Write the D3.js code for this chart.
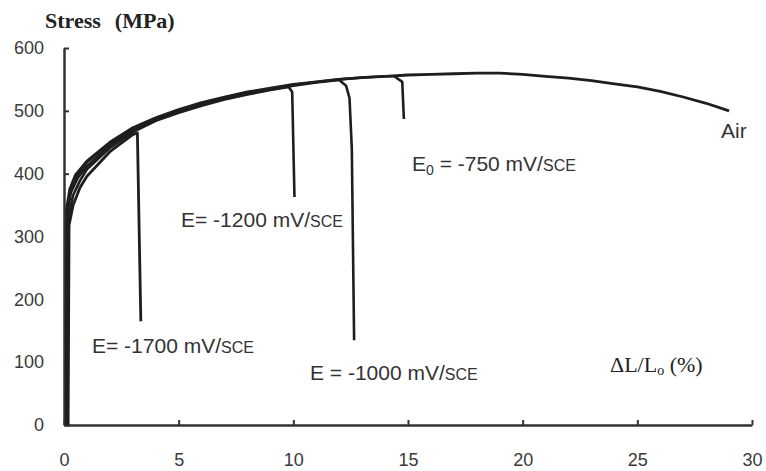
<!DOCTYPE html>
<html>
<head>
<meta charset="utf-8">
<script src="https://cdn.jsdelivr.net/npm/d3@7"></script>
<style>
  body { margin: 0; background: #fff; }
  .tick text { font-family: "Liberation Sans", Arial, sans-serif; font-size: 18px; fill: #3a3a3a; }
  .lbl { font-family: "Liberation Sans", Arial, sans-serif; font-size: 21px; fill: #333; }
</style>
</head>
<body>
<div id="chart"></div>
<script>
// strain (%) / stress (MPa)
const strainAir = [0.1, 0.12, 0.25, 0.5, 1, 2, 3, 4, 5, 6, 7, 8, 9, 10, 11, 12, 13, 14, 15, 16, 17, 18, 19, 20, 21, 22, 23, 24, 25, 26, 27, 28, 29];
const stressAir = [0, 345, 375, 398, 420, 450, 473, 489, 502, 513, 522, 530, 536, 542, 546, 550, 553, 555, 557, 558, 559, 560, 560, 558, 555, 552, 548, 543, 538, 531, 522, 512, 500];

const strain1700 = [0.18, 0.22, 0.4, 0.7, 1, 2, 3, 3.2, 3.35];
const stress1700 = [0, 318, 350, 378, 396, 435, 462, 465, 165];

const strain1200 = [0.15, 0.2, 0.4, 0.7, 1, 2, 3, 4, 5, 6, 7, 8, 9, 9.8, 9.95, 10.05];
const stress1200 = [0, 332, 366, 389, 407, 441, 466, 484, 497, 508, 518, 526, 533, 538, 530, 363];

const strain1000 = [0.12, 0.15, 0.3, 0.6, 1, 2, 3, 4, 5, 6, 7, 8, 9, 10, 11, 12, 12.3, 12.45, 12.55, 12.65];
const stress1000 = [0, 340, 370, 393, 412, 445, 469, 486, 499, 510, 519, 527, 534, 540, 545, 549, 540, 520, 440, 135];

const strain750 = [0.1, 0.12, 0.28, 0.55, 1, 2, 3, 4, 5, 6, 7, 8, 9, 10, 11, 12, 13, 14, 14.4, 14.75, 14.82];
const stress750 = [0, 342, 373, 396, 418, 448, 471, 488, 501, 512, 521, 529, 535, 541, 546, 550, 553, 555, 555, 546, 487];

const xTicks = [0, 5, 10, 15, 20, 25, 30];
const yTicks = [0, 100, 200, 300, 400, 500, 600];

const W = 766, H = 471;
const svg = d3.select("#chart").append("svg")
  .attr("width", W).attr("height", H);

const x = d3.scaleLinear().domain([0, 30]).range([64, 752]);
const y = d3.scaleLinear().domain([0, 600]).range([425, 48]);

// axes, ticks pointing inward
svg.append("g")
  .attr("transform", `translate(0,${y(0)})`)
  .call(d3.axisBottom(x).tickValues(xTicks).tickSizeInner(-5).tickSizeOuter(0).tickPadding(28));
svg.append("g")
  .attr("transform", `translate(${x(0)},0)`)
  .call(d3.axisLeft(y).tickValues(yTicks).tickSizeInner(-5).tickSizeOuter(0).tickPadding(20));

svg.selectAll(".domain").attr("stroke", "#333").attr("stroke-width", 2.5);
svg.selectAll(".tick line").attr("stroke", "#333").attr("stroke-width", 2);
svg.selectAll(".tick text").attr("font-family", null).attr("font-size", null);

const line = d3.line()
  .x(d => x(d[0]))
  .y(d => y(d[1]));

const series = [
  [strain1700, stress1700, 2.8],
  [strain1200, stress1200, 2.6],
  [strain1000, stress1000, 2.6],
  [strain750, stress750, 2.6],
  [strainAir, stressAir, 2.8]
];
series.forEach(([xs, ys, w]) => {
  svg.append("path")
    .datum(xs.map((v, i) => [v, ys[i]]))
    .attr("fill", "none")
    .attr("stroke", "#1e1e1e")
    .attr("stroke-width", w)
    .attr("stroke-linejoin", "round")
    .attr("d", line);
});

// title
const title = svg.append("text")
  .attr("x", 45).attr("y", 28)
  .attr("font-family", "'Liberation Serif', 'Times New Roman', serif")
  .attr("font-weight", "bold")
  .attr("font-size", 22)
  .attr("fill", "#222");
title.append("tspan").text("Stress");
title.append("tspan").attr("dx", 14).text("(MPa)");

// x axis label
const xl = svg.append("text")
  .attr("x", 610).attr("y", 372)
  .attr("font-family", "'Liberation Serif', 'Times New Roman', serif")
  .attr("font-size", 22)
  .attr("fill", "#222");
xl.append("tspan").text("ΔL/L");
xl.append("tspan").attr("font-size", 14).attr("dy", 3).text("o");
xl.append("tspan").attr("dy", -3).text(" (%)");

// curve labels
function sceLabel(px, py, parts) {
  const t = svg.append("text").attr("class", "lbl").attr("x", px).attr("y", py);
  parts.forEach(p => {
    const s = t.append("tspan").text(p.t);
    if (p.size) s.attr("font-size", p.size);
    if (p.dy) s.attr("dy", p.dy);
  });
  return t;
}
sceLabel(92, 353, [{t: "E= -1700 mV/"}, {t: "SCE", size: 16}]);
sceLabel(181, 227, [{t: "E= -1200 mV/"}, {t: "SCE", size: 16}]);
sceLabel(310, 380, [{t: "E = -1000 mV/"}, {t: "SCE", size: 16}]);
sceLabel(412, 171, [{t: "E"}, {t: "0", size: 14, dy: 4}, {t: " = -750 mV/", dy: -4}, {t: "SCE", size: 16}]);
sceLabel(721, 138, [{t: "Air"}]);
</script>
</body>
</html>
